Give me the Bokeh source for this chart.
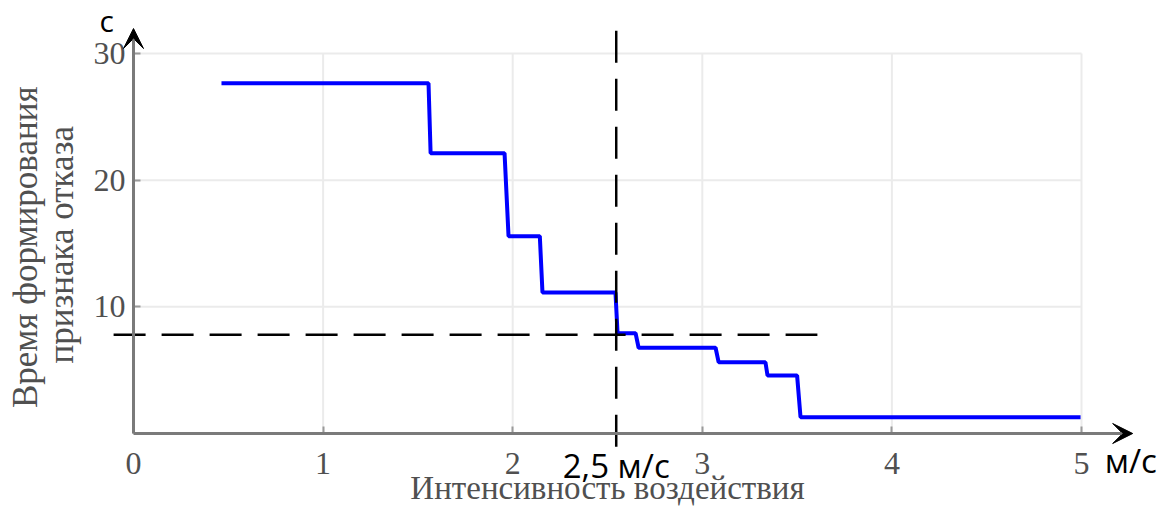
import math
from bokeh.plotting import figure
from bokeh.models import Range1d, FixedTicker, Arrow, VeeHead, Label
from bokeh.embed import file_html
from bokeh.resources import INLINE

# ---- data ----
step_x = [0.464, 1.556, 1.567, 1.957, 1.978, 2.143, 2.157, 2.542, 2.553,
          2.648, 2.664, 3.070, 3.086, 3.333, 3.344, 3.500, 3.518, 4.995]
step_y = [27.65, 27.65, 22.13, 22.13, 15.58, 15.58, 11.13, 11.13, 7.92,
          7.92, 6.77, 6.77, 5.63, 5.63, 4.58, 4.58, 1.29, 1.29]

x_ticks = [0, 1, 2, 3, 4, 5]
y_ticks = [10, 20, 30]
x_bounds = (0, 5)
y_bounds = (0, 30)

x_title = "Интенсивность воздействия"
y_title_lines = ["Время формирования", "признака отказа"]

# reference lines (threshold)
h_dash_x = [-0.105, 3.607]
h_dash_y = [7.79, 7.79]
v_dash_x = [2.546, 2.546]
v_dash_y = [31.8, -1.2]

# axis arrow tips
x_arrow_end = 5.27
y_arrow_end = 31.97

unit_y = "с"
unit_x = "м/с"
marker_text = "2,5 м/с"

SERIF = "Liberation Serif"
SANS = "Open Sans"
GREY_TXT = "#505050"
GREY_AX = "#7a7a7a"

p = figure(width=1158, height=506,
           x_range=Range1d(-0.7015, 5.4061), y_range=Range1d(-5.763, 34.184),
           output_backend="svg", toolbar_location=None,
           min_border_left=0, min_border_right=0,
           min_border_top=0, min_border_bottom=0)
p.outline_line_color = None
p.xgrid.visible = False
p.ygrid.visible = False

# grid lines limited to the axes box
gx = x_ticks[1:]
p.segment(x0=gx, y0=[y_bounds[0]] * len(gx), x1=gx, y1=[y_bounds[1]] * len(gx),
          line_color="#ebebeb", line_width=2)
p.segment(x0=[x_bounds[0]] * len(y_ticks), y0=y_ticks,
          x1=[x_bounds[1]] * len(y_ticks), y1=y_ticks,
          line_color="#ebebeb", line_width=2)

# axes
for ax, ticks, bnds in ((p.xaxis, x_ticks, x_bounds), (p.yaxis, y_ticks, y_bounds)):
    ax.fixed_location = 0
    ax.bounds = bnds
    ax.ticker = FixedTicker(ticks=ticks)
    ax.axis_line_color = None
    ax.major_tick_in = 7
    ax.major_tick_out = 0
    ax.major_tick_line_color = "#9a9a9a"
    ax.major_tick_line_width = 2
    ax.minor_tick_line_color = None
    ax.major_label_text_font = SERIF
    ax.major_label_text_font_size = "32px"
    ax.major_label_text_color = GREY_TXT

p.xaxis.major_label_standoff = 19
p.yaxis.major_label_standoff = 8

p.add_layout(Arrow(x_start=0, y_start=0, x_end=x_arrow_end, y_end=0,
                   line_color=GREY_AX, line_width=3,
                   end=VeeHead(size=20, fill_color="black", line_color="black")))
p.add_layout(Arrow(x_start=0, y_start=0, x_end=0, y_end=y_arrow_end,
                   line_color=GREY_AX, line_width=3,
                   end=VeeHead(size=20, fill_color="black", line_color="black")))

# data line
p.line(step_x, step_y, line_color="#0000ff", line_width=4)

# dashed reference lines
p.line(h_dash_x, h_dash_y, line_color="black", line_width=2.5, line_dash="32 16")
p.line(v_dash_x, v_dash_y, line_color="black", line_width=2.5, line_dash="32 16")

# axis titles
p.add_layout(Label(x=2.5, y=-5.74, text=x_title, text_font=SERIF,
                   text_font_size="33px", text_color=GREY_TXT,
                   text_align="center", text_baseline="bottom"))
p.add_layout(Label(x=-0.569, y=14.7, text=y_title_lines[0], text_font=SERIF,
                   text_font_size="35px", text_color=GREY_TXT, angle=math.pi / 2,
                   text_align="center", text_baseline="middle"))
p.add_layout(Label(x=-0.382, y=14.9, text=y_title_lines[1], text_font=SERIF,
                   text_font_size="35px", text_color=GREY_TXT, angle=math.pi / 2,
                   text_align="center", text_baseline="middle"))

# annotations
p.add_layout(Label(x=-0.142, y=32.61, text=unit_y, text_font=SANS,
                   text_font_size="30px", text_align="center",
                   text_baseline="alphabetic", text_color="black"))
p.add_layout(Label(x=v_dash_x[0], y=-2.53, text=marker_text, text_font=SANS,
                   text_font_size="33px", text_align="center",
                   text_baseline="alphabetic", text_color="black"))
p.add_layout(Label(x=5.26, y=-2.17, text=unit_x, text_font=SANS,
                   text_font_size="33px", text_align="center",
                   text_baseline="alphabetic", text_color="black"))

open("out.html", "w").write(file_html(p, INLINE))
